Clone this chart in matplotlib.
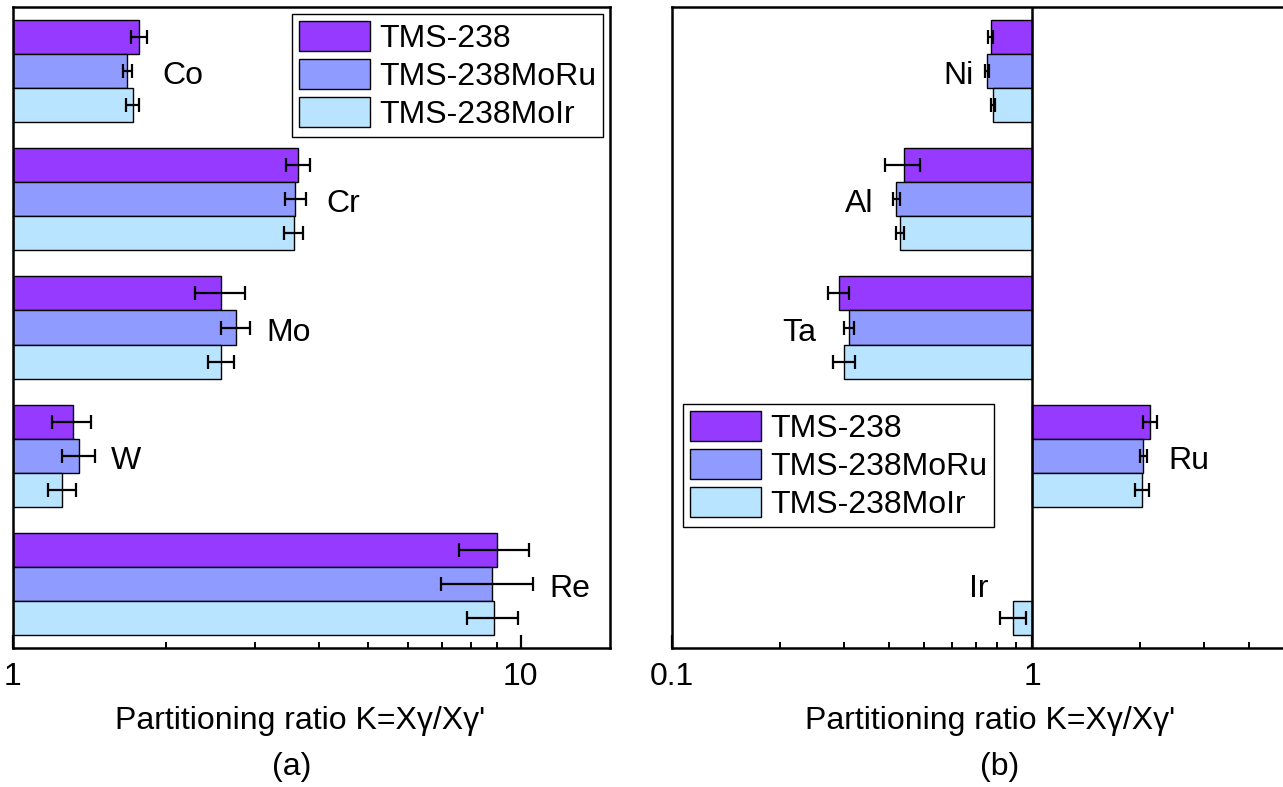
import numpy as np
import matplotlib
matplotlib.use("Agg")
import matplotlib.pyplot as plt
from matplotlib.ticker import LogLocator, NullFormatter

plt.rcParams['font.family'] = ['Liberation Sans', 'DejaVu Sans']
plt.rcParams['font.size'] = 23

# alloys
alloys = ['TMS-238', 'TMS-238MoRu', 'TMS-238MoIr']
colors = ['#963AFF', '#8F9BFF', '#B8E4FF']

# (a) gamma formers
elem_a = ['Co', 'Cr', 'Mo', 'W', 'Re']
k_a_238 = [1.77, 3.65, 2.57, 1.31, 8.97]
e_a_238 = [0.065, 0.20, 0.29, 0.115, 1.40]
k_a_moru = [1.68, 3.60, 2.75, 1.35, 8.78]
e_a_moru = [0.036, 0.17, 0.185, 0.10, 1.80]
k_a_moir = [1.72, 3.57, 2.57, 1.25, 8.85]
e_a_moir = [0.048, 0.15, 0.15, 0.08, 1.02]

# (b) gamma' formers (Ir only in the MoIr alloy)
elem_b = ['Ni', 'Al', 'Ta', 'Ru', 'Ir']
k_b_238 = [0.768, 0.440, 0.291, 2.13, np.nan]
e_b_238 = [0.012, 0.050, 0.020, 0.10, np.nan]
k_b_moru = [0.749, 0.420, 0.310, 2.04, np.nan]
e_b_moru = [0.011, 0.010, 0.010, 0.05, np.nan]
k_b_moir = [0.778, 0.430, 0.301, 2.02, 0.887]
e_b_moir = [0.011, 0.010, 0.021, 0.09, 0.073]

bar_h = 0.2656
xlabel = "Partitioning ratio K=X\u03b3/X\u03b3'"


def draw_panel(ax, elems, ks, es):
    n = len(elems)
    centers = np.arange(n) + 0.5
    handles = []
    for j, (k, e) in enumerate(zip(ks, es)):
        k = np.array(k, dtype=float)
        e = np.array(e, dtype=float)
        y = centers + (j - 1) * bar_h
        ok = ~np.isnan(k)
        b = ax.barh(y[ok], k[ok] - 1, left=1, height=bar_h, color=colors[j],
                    edgecolor='black', linewidth=1.0, label=alloys[j], zorder=2)
        ax.errorbar(k[ok], y[ok], xerr=e[ok], fmt='none', ecolor='black',
                    elinewidth=1.6, capsize=4.7, capthick=1.6, zorder=3)
        handles.append(b)

    # element names beside each group
    ks_arr = np.array(ks, dtype=float)
    es_arr = np.array(es, dtype=float)
    hi = np.nanmax(ks_arr + es_arr, axis=0)
    lo = np.nanmin(ks_arr - es_arr, axis=0)
    for i, name in enumerate(elems):
        if lo[i] >= 1:
            ax.text(hi[i] * 1.075, centers[i] + 0.04, name, ha='left', va='center')
        else:
            ax.text(lo[i] / 1.075, centers[i] + 0.04, name, ha='right', va='center')

    ax.set_xscale('log')
    ax.set_ylim(n, 0)
    ax.set_yticks([])
    ax.xaxis.set_minor_locator(LogLocator(base=10, subs=np.arange(2, 10)))
    ax.xaxis.set_minor_formatter(NullFormatter())
    ax.tick_params(axis='x', which='major', direction='in', length=9.5, width=1.6,
                   pad=10, labelsize=23, top=False)
    ax.tick_params(axis='x', which='minor', direction='in', length=4.5, width=1.4, top=False)
    for sp in ax.spines.values():
        sp.set_linewidth(1.8)
    return handles


fig = plt.figure(figsize=(12.83, 7.87), dpi=100)
W, H = 1283, 787

ax1 = fig.add_axes([13 / W, 1 - 648 / H, 597 / W, 641 / H])
h1 = draw_panel(ax1, elem_a, [k_a_238, k_a_moru, k_a_moir], [e_a_238, e_a_moru, e_a_moir])
ax1.set_xlim(1, 15)
ax1.set_xticks([1, 10])
ax1.set_xticklabels(['1', '10'])

ax2 = fig.add_axes([672 / W, 1 - 648 / H, 626 / W, 641 / H])
h2 = draw_panel(ax2, elem_b, [k_b_238, k_b_moru, k_b_moir], [e_b_238, e_b_moru, e_b_moir])
ax2.set_xlim(0.1, 0.1 * 10 ** (626 / 360))
ax2.set_xticks([0.1, 1])
ax2.set_xticklabels(['0.1', '1'])
ax2.axvline(1, color='black', linewidth=1.8, zorder=4)

leg_kw = dict(fontsize=23, handlelength=2.22, handleheight=1.07, labelspacing=0.16,
              handletextpad=0.3, borderpad=0.22, borderaxespad=0, fancybox=False,
              framealpha=1, edgecolor='black', loc='upper left')
l1 = ax1.legend(handles=h1, bbox_to_anchor=(0.467, 0.989), **leg_kw)
l1.get_frame().set_linewidth(1.0)
l2 = ax2.legend(handles=h2, bbox_to_anchor=(0.017, 0.381), **leg_kw)
l2.get_frame().set_linewidth(1.0)

fig.text(300 / W, 1 - 729 / H, xlabel, ha='center', va='baseline', fontsize=23)
fig.text(990 / W, 1 - 729 / H, xlabel, ha='center', va='baseline', fontsize=23)
fig.text(292 / W, 1 - 767 / H, '(a)', ha='center', va='center', fontsize=23)
fig.text(1000 / W, 1 - 767 / H, '(b)', ha='center', va='center', fontsize=23)

fig.savefig('out.png', dpi=100)
